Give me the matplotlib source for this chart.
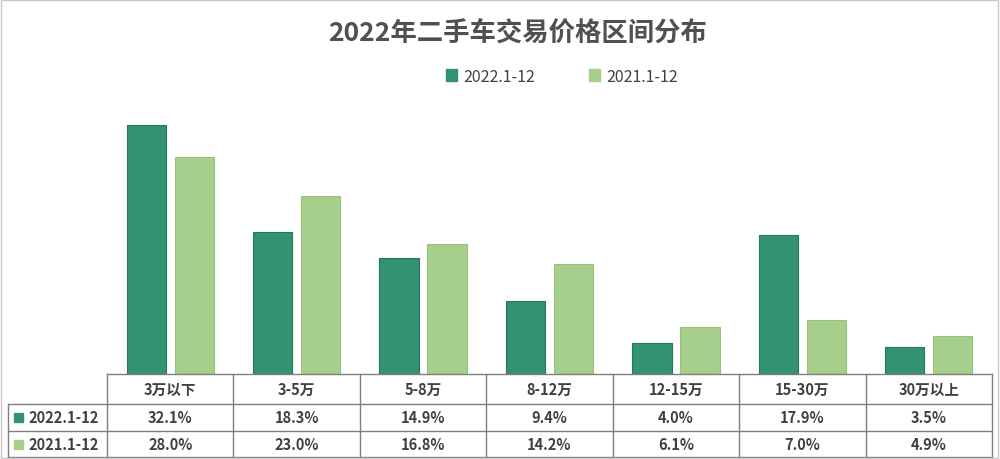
import matplotlib.pyplot as plt
from matplotlib.patches import Rectangle
import numpy as np

plt.rcParams['font.family'] = ['Noto Sans CJK SC', 'DejaVu Sans']

categories = ['3万以下', '3-5万', '5-8万', '8-12万', '12-15万', '15-30万', '30万以上']
series_names = ['2022.1-12', '2021.1-12']
v2022 = [32.1, 18.3, 14.9, 9.4, 4.0, 17.9, 3.5]
v2021 = [28.0, 23.0, 16.8, 14.2, 6.1, 7.0, 4.9]
colors = ['#339271', '#a5cf8a']
edges = ['#22795a', '#97c27c']
txt = '#404040'

W, H = 1000, 460
fig = plt.figure(figsize=(10, 4.6), dpi=100)
fig.patch.set_facecolor('white')
fig.patches.append(Rectangle((0.001, 0.002), 0.997, 0.995, transform=fig.transFigure,
                             fill=False, edgecolor='#c8c8c8', lw=1))

# chart area
x0, x1 = 107, 992
ybase, ytop = 375, 100
ax = fig.add_axes([x0 / W, (H - ybase) / H, (x1 - x0) / W, (ybase - ytop) / H])
x = np.arange(len(categories))
bw = 0.31
ax.bar(x - 0.19, v2022, bw, color=colors[0], edgecolor=edges[0], lw=0.8, label=series_names[0])
ax.bar(x + 0.19, v2021, bw, color=colors[1], edgecolor=edges[1], lw=0.8, label=series_names[1])
ax.set_xlim(-0.5, len(categories) - 0.5)
ax.set_ylim(0, (ybase - ytop) / 7.76)
ax.axis('off')

fig.text(0.518, 1 - 34 / H, '2022年二手车交易价格区间分布', ha='center', va='center',
         fontsize=19, fontweight='bold', color='#505050')

handles = [Rectangle((0, 0), 1, 1, color=c) for c in colors]
fig.legend(handles, series_names, loc='center', bbox_to_anchor=(0.562, 1 - 77 / H),
           ncol=2, frameon=False, fontsize=11.5, handlelength=0.7, handleheight=0.7,
           handletextpad=0.4, columnspacing=3.4, labelcolor=txt)

# data table
left = 8
cw = (x1 - x0) / len(categories)
tx = fig.add_axes([left / W, (H - 458) / H, (x1 - left) / W, (458 - 375) / H])
tx.set_xlim(-0.5 - (x0 - left) / cw, len(categories) - 0.5)
tx.set_ylim(458, 375)
tx.axis('off')
lc = '#7f7f7f'
lx = -0.5 - (x0 - left) / cw
rx = len(categories) - 0.5
rows = [375, 405, 432, 458]
tx.plot([-0.5, rx], [rows[0], rows[0]], color=lc, lw=1, clip_on=False)
for r in rows[1:]:
    tx.plot([lx, rx], [r, r], color=lc, lw=1, clip_on=False)
tx.plot([lx, lx], [rows[1], rows[3]], color=lc, lw=1, clip_on=False)
for k in range(len(categories) + 1):
    tx.plot([k - 0.5, k - 0.5], [rows[0], rows[3]], color=lc, lw=1, clip_on=False)

for i, c in enumerate(categories):
    tx.text(i, (rows[0] + rows[1]) / 2, c, ha='center', va='center', fontsize=10.5,
            fontweight='bold', color=txt)
for j, vals in enumerate([v2022, v2021]):
    yc = (rows[j + 1] + rows[j + 2]) / 2
    for i, v in enumerate(vals):
        tx.text(i, yc, f'{v:.1f}%', ha='center', va='center', fontsize=10.5,
                fontweight='bold', color=txt)
    tx.text(lx + 0.16, yc, series_names[j], ha='left', va='center', fontsize=10.5,
            fontweight='bold', color=txt)
    tx.add_patch(Rectangle((lx + 0.05, yc - 4.5), 9 / cw, 9, color=colors[j], clip_on=False))

fig.savefig('out.png', dpi=100)
